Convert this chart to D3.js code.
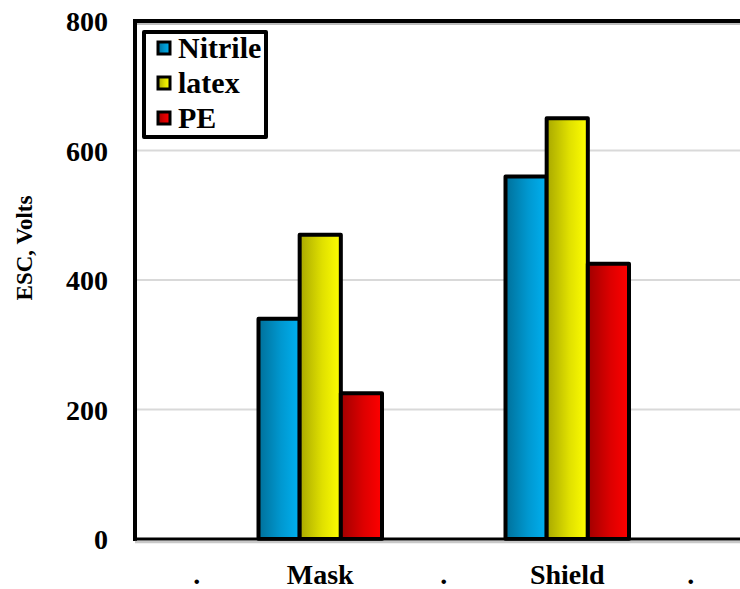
<!DOCTYPE html>
<html><head><meta charset="utf-8">
<script src="https://cdn.jsdelivr.net/npm/d3@7"></script>
<style>body{margin:0;background:#fff}svg{display:block}</style>
</head><body>
<svg id="c" width="740" height="589"></svg>
<script>
const categories = ["gap1","Mask","gap2","Shield","gap3"];
const categoryLabels = [".","Mask",".","Shield","."];
const seriesNames = ["Nitrile","latex","PE"];
const nitrile = [null,340,null,560,null];
const latex = [null,470,null,650,null];
const pe = [null,225,null,425,null];
const yTicks = [0,200,400,600,800];

const seriesValues = [nitrile, latex, pe];
const grads = [
  ["#00709a","#0098d0","#00b0f0"],
  ["#a8a800","#e0e000","#ffff00"],
  ["#a00000","#dd0000","#ff0000"]
];

const svg = d3.select("#c");
const font = "'Liberation Serif','Times New Roman',serif";
const L = 135, T = 21, B = 539, bandW = 123.5;

const x = d3.scaleBand().domain(categories).range([L, L + bandW*categories.length]).padding(0);
const xs = d3.scaleBand().domain(seriesNames).range([0, x.bandwidth()]).padding(0);
const y = d3.scaleLinear().domain([0,800]).range([B, T]);

const defs = svg.append("defs");
grads.forEach((g,i)=>{
  const lg = defs.append("linearGradient").attr("id","g"+i).attr("x1","0").attr("x2","1").attr("y1","0").attr("y2","0");
  lg.append("stop").attr("offset","0").attr("stop-color",g[0]);
  lg.append("stop").attr("offset","0.55").attr("stop-color",g[1]);
  lg.append("stop").attr("offset","1").attr("stop-color",g[2]);
});

// gridlines
svg.append("g").selectAll("line").data(yTicks.filter(t=>t>0 && t<800)).join("line")
  .attr("x1",L).attr("x2",740).attr("y1",d=>y(d)).attr("y2",d=>y(d))
  .attr("stroke","#d9d9d9").attr("stroke-width",2);

// bars
seriesNames.forEach((s,si)=>{
  svg.append("g").selectAll("rect")
    .data(categories.map((c,ci)=>({c, v: seriesValues[si][ci]})).filter(d=>d.v!=null))
    .join("rect")
    .attr("x",d=>x(d.c)+xs(s))
    .attr("width",xs.bandwidth())
    .attr("y",d=>y(d.v))
    .attr("height",d=>B - y(d.v))
    .attr("fill","url(#g"+si+")")
    .attr("stroke","#000").attr("stroke-width",4).attr("stroke-linejoin","round");
});

// frame: top, left, bottom
svg.append("line").attr("x1",L).attr("x2",740).attr("y1",T+3).attr("y2",T+3).attr("stroke","#bdbdbd").attr("stroke-width",2);
svg.append("line").attr("x1",L-2).attr("x2",740).attr("y1",T).attr("y2",T).attr("stroke","#000").attr("stroke-width",4);
svg.append("line").attr("x1",L).attr("x2",L).attr("y1",T-2).attr("y2",B+2).attr("stroke","#000").attr("stroke-width",4);
svg.append("line").attr("x1",L).attr("x2",740).attr("y1",B+3).attr("y2",B+3).attr("stroke","#c8c8c8").attr("stroke-width",2.5);
svg.append("line").attr("x1",L-2).attr("x2",740).attr("y1",B).attr("y2",B).attr("stroke","#000").attr("stroke-width",3);

// y axis labels
const yAxis = d3.axisLeft(y).tickValues(yTicks).tickSize(0).tickPadding(0).tickFormat(d3.format("d"));
const ya = svg.append("g").attr("transform","translate(108,0)").call(yAxis);
ya.select(".domain").remove();
ya.selectAll("text").attr("font-family",font).attr("font-weight","bold").attr("font-size",28).attr("fill","#000").attr("dy","0.34em");

// x axis labels
const xAxis = d3.axisBottom(x).tickSize(0).tickPadding(0).tickFormat((d,i)=>categoryLabels[i]);
const xa = svg.append("g").attr("transform","translate(0,584)").call(xAxis);
xa.select(".domain").remove();
xa.selectAll("text").attr("font-family",font).attr("font-weight","bold").attr("font-size",28).attr("fill","#000").attr("dy","0");

// y title
svg.append("text").attr("transform","translate(32,248) rotate(-90)").attr("text-anchor","middle")
  .attr("font-family",font).attr("font-weight","bold").attr("font-size",23).text("ESC, Volts");

// legend
const lg = svg.append("g");
lg.append("rect").attr("x",144).attr("y",32).attr("width",122).attr("height",105)
  .attr("fill","#fff").attr("stroke","#000").attr("stroke-width",4).attr("stroke-linejoin","round");
seriesNames.forEach((s,i)=>{
  const cy = 48 + i*35;
  lg.append("rect").attr("x",158).attr("y",cy-6).attr("width",12).attr("height",12)
    .attr("fill","url(#g"+i+")").attr("stroke","#000").attr("stroke-width",3);
  lg.append("text").attr("x",178).attr("y",cy+10).attr("font-family",font).attr("font-weight","bold")
    .attr("font-size",30).text(s);
});
</script>
</body></html>
